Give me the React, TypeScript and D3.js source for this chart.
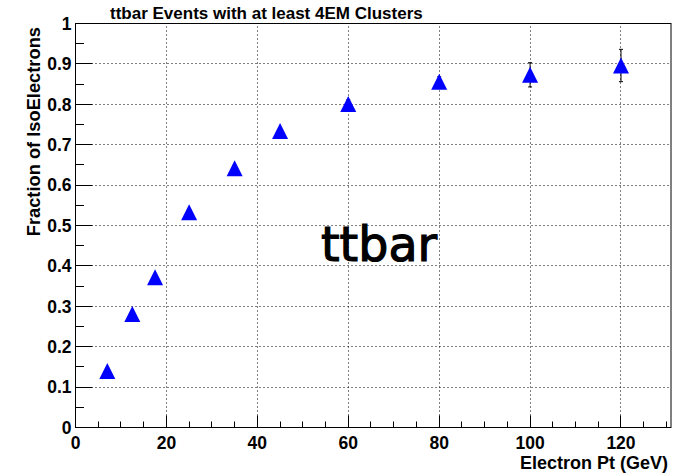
import React from 'react';
import * as d3 from 'd3';

const ptValues = [7, 12.5, 17.5, 25, 35, 45, 60, 80, 100, 120];
const fractionValues = [0.14, 0.281, 0.372, 0.533, 0.642, 0.734, 0.801, 0.856, 0.873, 0.896];
const fractionErrors = [0.004, 0.005, 0.005, 0.006, 0.007, 0.008, 0.01, 0.012, 0.03, 0.04];
const xMajorTicks = [0, 20, 40, 60, 80, 100, 120];
const yMajorTicks = [0, 0.1, 0.2, 0.3, 0.4, 0.5, 0.6, 0.7, 0.8, 0.9, 1];
const titleText = 'ttbar Events with at least 4EM Clusters';
const xTitle = 'Electron Pt (GeV)';
const yTitle = 'Fraction of IsoElectrons';
const sampleLabel = 'ttbar';

const W = 673;
const H = 473;
const FONT = '"Liberation Sans", Arial, Helvetica, sans-serif';

export default function App() {
  const x = d3.scaleLinear().domain([0, 131]).range([75.5, 671]);
  const y = d3.scaleLinear().domain([0, 1]).range([427.5, 23.5]);
  const xMinor = d3.range(0, 131, 5);
  const yMinor = d3.range(0, 1.0001, 0.05);
  const px = (v: number) => Math.round(v - 0.5) + 0.5;
  const [x0, x1] = x.range();
  const [y0, y1] = y.range();
  const fmtY = (v: number) => (v === 0 ? '0' : v === 1 ? '1' : d3.format('.1f')(v));

  return (
    <svg width={W} height={H} style={{ position: 'absolute', left: 0, top: 0, background: '#fff' }}>
      <rect x={0} y={0} width={W} height={H} fill="#fff" />
      {/* grid */}
      <g stroke="#000" strokeWidth={1} strokeDasharray="1,3">
        {xMajorTicks.filter((t) => t > 0).map((t) => (
          <line key={'gx' + t} x1={px(x(t))} x2={px(x(t))} y1={y0} y2={y1} />
        ))}
        {yMajorTicks.filter((t) => t > 0 && t < 1).map((t) => (
          <line key={'gy' + t} x1={x0} x2={x1} y1={px(y(t))} y2={px(y(t))} />
        ))}
      </g>
      {/* frame */}
      <rect x={x0} y={y1} width={x1 - x0} height={y0 - y1} fill="none" stroke="#000" strokeWidth={1} />
      {/* ticks */}
      <g stroke="#000" strokeWidth={1}>
        {xMinor.map((t) => {
          const major = t % 20 === 0;
          return (
            <line key={'tx' + t} x1={px(x(t))} x2={px(x(t))} y1={y0} y2={y0 - (major ? 12 : 6)} />
          );
        })}
        {yMinor.map((t, i) => {
          const major = i % 2 === 0;
          return (
            <line key={'ty' + i} x1={x0} x2={x0 + (major ? 17 : 8.5)} y1={px(y(t))} y2={px(y(t))} />
          );
        })}
      </g>
      {/* tick labels */}
      <g fontFamily={FONT} fontWeight="bold" fontSize={17.5} fill="#000">
        {xMajorTicks.map((t) => (
          <text key={'lx' + t} x={x(t)} y={449} textAnchor="middle">
            {t}
          </text>
        ))}
        {yMajorTicks.map((t) => (
          <text key={'ly' + t} x={71.5} y={y(t)} dy="0.36em" textAnchor="end">
            {fmtY(t)}
          </text>
        ))}
      </g>
      {/* axis titles */}
      <text x={668} y={469} textAnchor="end" fontFamily={FONT} fontWeight="bold" fontSize={18} fill="#000">
        {xTitle}
      </text>
      <text
        transform="translate(40,27) rotate(-90)"
        textAnchor="end"
        fontFamily={FONT}
        fontWeight="bold"
        fontSize={18.3}
        fill="#000"
      >
        {yTitle}
      </text>
      {/* title */}
      <text x={110} y={19} fontFamily={FONT} fontWeight="bold" fontSize={17} fill="#000">
        {titleText}
      </text>
      {/* big label */}
      <text
        x={321}
        y={261}
        fontFamily='"DejaVu Sans", sans-serif'
        fontSize={47.5}
        fill="#000"
        stroke="#000"
        strokeWidth={1.2}
      >
        {sampleLabel}
      </text>
      {/* data */}
      <g>
        {ptValues.map((pt, i) => {
          const cx = x(pt);
          const cy = y(fractionValues[i]);
          const yt = y(fractionValues[i] + fractionErrors[i]);
          const yb = y(fractionValues[i] - fractionErrors[i]);
          const s = 8;
          return (
            <g key={'p' + i}>
              <line x1={cx} x2={cx} y1={yt} y2={yb} stroke="#000" strokeWidth={1} />
              <line x1={cx - 2} x2={cx + 2} y1={yt} y2={yt} stroke="#000" strokeWidth={1} />
              <line x1={cx - 2} x2={cx + 2} y1={yb} y2={yb} stroke="#000" strokeWidth={1} />
              <path
                d={`M${cx},${cy - s}L${cx + s},${cy + s}L${cx - s},${cy + s}Z`}
                fill="#0000ff"
              />
            </g>
          );
        })}
      </g>
    </svg>
  );
}
